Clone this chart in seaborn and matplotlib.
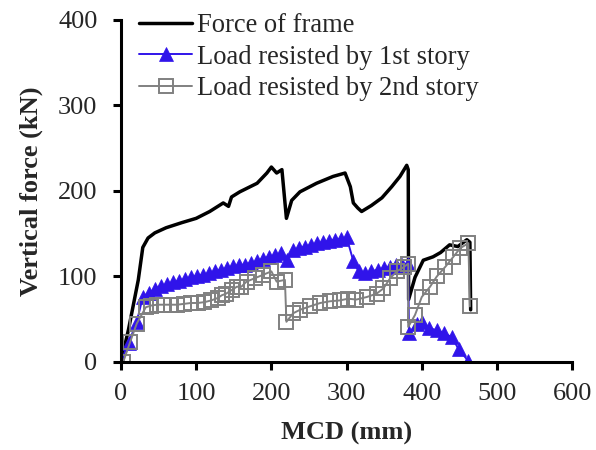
import matplotlib
matplotlib.use("Agg")
import matplotlib.pyplot as plt
import seaborn as sns
import pandas as pd

# Force of the whole frame (kN) against middle column displacement (mm)
frame_mcd = [0, 10, 23, 29, 36, 45, 60, 81, 100, 118, 136, 143, 147, 158, 181, 194,
             200, 207, 214, 220, 227, 238, 260, 282, 298, 305, 309, 315, 320, 333,
             347, 360, 371, 380, 382, 382.5, 391, 402, 415, 425, 437, 448, 460, 464, 465]
frame_force = [0, 38, 96, 134, 145, 151, 157, 163, 168, 176, 186, 182, 193, 199, 209, 221,
               228, 221, 225, 168, 189, 199, 209, 217, 221, 205, 186, 180, 176, 183,
               192, 205, 217, 230, 225, 73, 99, 119, 123, 128, 137, 135, 143, 140, 61]

# Load resisted by the 1st story
story1_mcd = [0, 10, 21, 29, 37, 45, 53, 61, 69, 77, 85, 93, 101, 109, 117, 125, 133,
              141, 149, 157, 165, 173, 181, 189, 197, 205, 213, 221, 229, 237, 245,
              253, 261, 269, 277, 285, 293, 300, 309, 316, 325, 333, 342, 350, 358,
              366, 374, 382, 383, 393, 400, 409, 420, 429, 440, 449, 462]
story1_load = [0, 22, 47, 76, 81, 85, 89, 91, 93, 95, 97, 99, 101, 102, 104, 106, 108,
               110, 112, 113, 114, 116, 118, 121, 123, 125, 127, 119, 131, 133, 135,
               137, 139, 140, 142, 143, 144, 146, 118, 106, 104, 106, 108, 110, 111,
               113, 114, 115, 34, 44, 47, 40, 37, 34, 29, 15, 1]

# Load resisted by the 2nd story
story2_mcd = [3, 12, 21, 33, 40, 48, 57, 66, 75, 84, 93, 102, 111, 120, 129, 134, 140,
              147, 154, 160, 167, 178, 189, 200, 207, 218, 220, 229, 238, 251, 265,
              278, 291, 302, 313, 327, 340, 349, 358, 367, 376, 382, 382, 391, 400,
              411, 420, 431, 442, 451, 462, 464]
story2_load = [0, 23, 45, 64, 66, 67, 67, 67, 67, 68, 69, 69, 70, 72, 75, 78, 80,
               84, 88, 88, 94, 98, 102, 106, 94, 96, 47, 57, 61, 65, 69,
               71, 72, 74, 73, 76, 80, 86, 98, 106, 111, 115, 41, 55, 76,
               88, 100, 111, 123, 133, 139, 65]

x_ticks = [0, 100, 200, 300, 400, 500, 600]
y_ticks = [0, 100, 200, 300, 400]

sns.set_style("ticks")
plt.rcParams["font.family"] = ["Liberation Serif", "DejaVu Serif"]

fig = plt.figure(figsize=(5.96, 4.5), dpi=100)
ax = fig.add_axes([0.203, 0.1956, 0.757, 0.76])

frame_df = pd.DataFrame({"mcd": frame_mcd, "force": frame_force})
s1_df = pd.DataFrame({"mcd": story1_mcd, "force": story1_load})
s2_df = pd.DataFrame({"mcd": story2_mcd, "force": story2_load})

sns.lineplot(data=frame_df, x="mcd", y="force", ax=ax, sort=False, estimator=None,
             color="black", linewidth=2.5, label="Force of frame")
sns.lineplot(data=s1_df, x="mcd", y="force", ax=ax, sort=False, estimator=None,
             color="#3014EA", linewidth=1.4, marker="^", markersize=9.5,
             markerfacecolor="#3014EA", markeredgecolor="#3014EA", markeredgewidth=0.5,
             label="Load resisted by 1st story")
sns.lineplot(data=s2_df, x="mcd", y="force", ax=ax, sort=False, estimator=None,
             color="#808080", linewidth=1.4, marker="s", markersize=9.5,
             markerfacecolor="none", markeredgecolor="#808080", markeredgewidth=1.4,
             label="Load resisted by 2nd story")

ax.set_xlim(0, 600)
ax.set_ylim(0, 400)
ax.set_xticks(x_ticks)
ax.set_yticks(y_ticks)
ax.tick_params(axis="both", labelsize=19, width=2.2, length=6, color="black",
               direction="out")
ax.tick_params(axis="x", pad=9)
ax.tick_params(axis="y", pad=11)
for side in ("left", "bottom"):
    ax.spines[side].set_linewidth(2.2)
    ax.spines[side].set_color("black")
sns.despine(ax=ax)

ax.set_xlabel("MCD (mm)", fontsize=19, fontweight="bold", labelpad=12)
ax.set_ylabel("Vertical force (kN)", fontsize=19, fontweight="bold", labelpad=11)

ax.legend(loc="upper left", bbox_to_anchor=(0.04, 1.02), frameon=False,
          fontsize=19.1, handlelength=2.0, handletextpad=0.2, labelspacing=0.24,
          borderpad=0, borderaxespad=0)

fig.savefig("out.png", dpi=100)
